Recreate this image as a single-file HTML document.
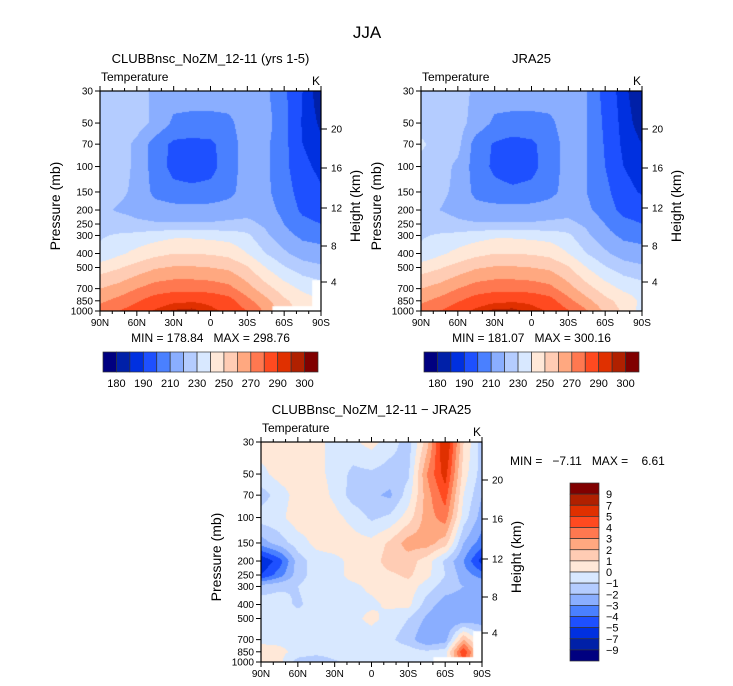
<!DOCTYPE html>
<html><head><meta charset="utf-8">
<style>
html,body{margin:0;padding:0;background:#fff;}
#wrap{position:relative;width:733px;height:686px;overflow:hidden;font-family:"Liberation Sans",sans-serif;}
canvas{position:absolute;}
svg{position:absolute;left:0;top:0;}
text{font-family:"Liberation Sans",sans-serif;fill:#000;white-space:pre;}
</style></head>
<body>
<div id="wrap">
<canvas id="c1" width="221" height="220" style="left:100px;top:91px"></canvas>
<canvas id="c2" width="221" height="220" style="left:421px;top:91px"></canvas>
<canvas id="c3" width="221" height="220" style="left:261px;top:442px"></canvas>
<svg id="svg" width="733" height="686"></svg>
</div>
<script>
// ---- data ----
const latLabels = ["90N","60N","30N","0","30S","60S","90S"];
const pressureLevels = [30,50,70,100,150,200,250,300,400,500,700,850,1000];
const pressureLabels = [30,50,70,100,150,200,250,300,400,500,700,850,1000];
const heightLabels = [20,16,12,8,4];
const tempLevels = [180,185,190,200,210,220,230,240,250,260,270,280,290,295,300];
const tempBarLabels = ["180","190","210","230","250","270","290","300"];
const diffLevels = [-9,-7,-5,-4,-3,-2,-1,0,1,2,3,4,5,7,9];
const diffBarLabels = ["9","7","5","4","3","2","1","0","\u22121","\u22122","\u22123","\u22124","\u22125","\u22127","\u22129"];
const palette = ["#000080","#0020A8","#0030E0","#1E50FF","#4A80FF","#8AAEFF","#B4CCFF","#D8E8FF","#FFE8D8","#FFCCB4","#FFA880","#FF7850","#FF4A20","#E03000","#B02000","#800000"];
// columns: 90N,75N,60N,45N,30N,15N,0,15S,30S,45S,60S,75S,90S ; rows: pressureLevels
const modelT = [
[225,225,224,218,215,215,215,215,215,212,202,190,181],
[225,225,224,218,208,207,207,208,215,214,203,189,184],
[225,224,218,205,198,197,198,205,215,212,203,190,186],
[225,224,218,205,197,196,197,205,215,212,203,192,188],
[224,222,218,207,203,202,203,207,215,212,205,195,191],
[222,219,217,215,214,214,214,215,216,214,207,198,195],
[228,225,222,221,221,221,221,222,223,218,210,203,200],
[229,231,233,236,238,238,237,236,232,222,213,208,207],
[232,238,243,247,250,250,249,247,240,230,222,215,213],
[245,249,254,259,261,261,260,258,251,240,231,225,222],
[260,264,270,275,277,277,276,273,264,254,245,238,235],
[268,273,279,285,288,289,288,284,273,263,252,245,240],
[275,280,285,291,296,297,292,288,280,268,255,246,240]];
const obsT = [
[225,225,224,218,215,215,215,215,215,210,196,186,182],
[225,225,224,216,208,207,207,208,215,210,198,187,183],
[232,225,223,205,199,196,198,205,214,210,199,188,185],
[226,224,218,205,198,195,197,205,214,210,200,190,186],
[225,222,218,207,203,202,203,207,214,210,203,193,189],
[224,220,217,214,214,214,214,215,216,212,205,197,195],
[228,225,222,221,221,221,221,222,223,218,210,203,200],
[229,231,233,236,238,238,237,236,232,222,213,208,207],
[232,238,243,247,250,250,249,247,240,230,222,215,213],
[245,249,254,259,261,261,260,258,251,240,231,225,222],
[260,264,270,275,277,277,276,273,264,254,245,238,235],
[268,273,279,285,288,289,288,284,273,263,253,246,238],
[275,280,286,292,297,297,293,289,281,271,258,248,236]];
const diffT = [
[0.5,0.5,0.4,0.3,-0.3,-0.2,0.4,-0.5,-1.5,1.5,6.5,1.0,-1.5],
[-0.3,0.4,0.5,0.3,-0.3,-1.3,-1.2,-1.5,-1.2,3,5.5,0.5,-1.5],
[-1.5,-0.5,0.4,0.5,-0.2,-1.5,-1.8,-2.2,-0.5,2.5,4.5,0,-2],
[-0.5,-0.3,0.6,0.5,0.3,-0.3,-1.2,-0.8,0.5,2.5,3.5,-0.5,-2.5],
[-2.5,-1.5,-0.5,0.3,0.5,0.4,0.3,1.2,2.5,2.5,1.5,-2,-3.5],
[-6,-4.5,-1.5,-0.5,-0.3,0.3,0.5,1.5,1.5,0.5,-1.2,-3,-5.5],
[-5,-3.5,-1.5,-0.5,-0.3,0.3,0.5,0.8,1.2,0.3,-1.0,-2.5,-3.5],
[-1.5,-1.2,-1.0,-0.4,-0.3,-0.2,0.2,0.5,0.6,-0.5,-1.5,-2,-2],
[-0.5,-0.5,-1.2,-0.5,-0.3,-0.3,-0.2,0.2,0.3,-1.5,-2.5,-2.5,-2.0],
[-0.3,-0.4,-0.5,-0.5,-0.4,-0.3,0.3,-0.4,-1,-2.2,-3,-3,-2.5],
[-0.3,-0.3,-0.5,-0.5,-0.4,-0.5,-0.6,-0.8,-1.5,-3,-2.5,2,-1],
[0.5,0.3,-0.3,-0.5,-0.3,-0.3,-0.3,-0.5,-0.5,-0.8,-0.5,5,0],
[0.5,0.3,-1.5,-2,-1.2,-0.5,-0.5,-0.3,-0.3,-0.5,-0.5,4,0]];

// ---- axis functions ----
const PW=221, PH=220;
const lnTop=Math.log(30), lnBot=Math.log(1000);
function yOfP(p){return (Math.log(p)-lnTop)/(lnBot-lnTop)*PH;}
function xOfLat(i,n){return i/(n-1)*PW;}
function pOfY(y){return Math.exp(lnTop+y/PH*(lnBot-lnTop));}

function sample(grid,x,y){
  const nc=grid[0].length;
  const cx=x/PW*(nc-1);
  const p=pOfY(y), lp=Math.log(p);
  let r=0;
  while(r<pressureLevels.length-2 && Math.log(pressureLevels[r+1])<lp) r++;
  const l0=Math.log(pressureLevels[r]), l1=Math.log(pressureLevels[r+1]);
  let fy=(lp-l0)/(l1-l0); fy=Math.max(0,Math.min(1,fy));
  let c=Math.min(nc-2,Math.floor(cx)); let fx=cx-c;
  const a=grid[r][c]*(1-fx)+grid[r][c+1]*fx;
  const b=grid[r+1][c]*(1-fx)+grid[r+1][c+1]*fx;
  return a*(1-fy)+b*fy;
}
function binOf(v,levels){let k=0;while(k<levels.length&&v>=levels[k])k++;return k;}
function hexRGB(h){return [parseInt(h.substr(1,2),16),parseInt(h.substr(3,2),16),parseInt(h.substr(5,2),16)];}
const pal=palette.map(hexRGB);
function drawContour(id,grid,levels,mask){
  const cv=document.getElementById(id),ctx=cv.getContext('2d');
  const img=ctx.createImageData(PW,PH);
  for(let y=0;y<PH;y++)for(let x=0;x<PW;x++){
    const v=sample(grid,x+0.5,y+0.5);
    const c=pal[binOf(v,levels)];
    const i=(y*PW+x)*4;img.data[i]=c[0];img.data[i+1]=c[1];img.data[i+2]=c[2];img.data[i+3]=255;
  }
  ctx.putImageData(img,0,0);
  if(mask){ctx.fillStyle="#fff";ctx.fillRect(0.78*PW,0.978*PH,0.22*PW,0.03*PH);ctx.fillRect(0.96*PW,0.86*PH,0.04*PW,0.14*PH);}
}
drawContour('c1',modelT,tempLevels,true);
drawContour('c2',obsT,tempLevels,false);
drawContour('c3',diffT,diffLevels,true);

// ---- svg overlay ----
const NS="http://www.w3.org/2000/svg";
const svg=document.getElementById('svg');
function el(tag,attrs,parent){const e=document.createElementNS(NS,tag);for(const k in attrs)e.setAttribute(k,attrs[k]);(parent||svg).appendChild(e);return e;}
function txt(s,x,y,size,anchor,parent,extra){const t=el('text',Object.assign({x:x,y:y,'font-size':size,'text-anchor':anchor||'middle'},extra||{}),parent);t.textContent=s;return t;}

const tt=txt("JJA",367,38,17,'middle');



function panel(name,X,Y,title,minmax){
  const g=el('g',{});
  
  
  const t=txt(title,X+PW/2,Y-28,13,'middle',g);
  
  
  const s=txt("Temperature",X+1,Y-10,12,'start',g);
  
  
  const k=txt("K",X+PW-1,Y-6,12,'end',g);
  
  
  const fr=el('rect',{x:X,y:Y,width:PW,height:PH,fill:'none',stroke:'#000','stroke-width':1.2},g);
  
  
  for(let d=0;d<=18;d++){
    const x=X+xOfLat(d,19), major=d%3===0;
    el('line',{x1:x,y1:Y+PH,x2:x,y2:Y+PH+(major?5:3),stroke:'#000','stroke-width':1},g);
    el('line',{x1:x,y1:Y,x2:x,y2:Y-(major?5:3),stroke:'#000','stroke-width':1},g);
  }
  latLabels.forEach((l,i)=>{
    const xl=txt(l,X+xOfLat(i,latLabels.length),Y+PH+15,10,'middle',g);
    
    
  });
  pressureLabels.forEach(p=>{
    const y=Y+yOfP(p);
    el('line',{x1:X-5,y1:y,x2:X,y2:y,stroke:'#000','stroke-width':1},g);
    const yl=txt(String(p),X-7,y+3.5,10,'end',g);
    
    
  });
  const hOff={20:38,16:77,12:117,8:155,4:191};
  heightLabels.forEach(h=>{
    const y=Y+hOff[h];
    el('line',{x1:X+PW,y1:y,x2:X+PW+6,y2:y,stroke:'#000','stroke-width':1},g);
    const hl=txt(String(h),X+PW+10,y+3.5,10,'start',g);
    
    
  });
  const ya=txt("Pressure (mb)",0,0,14,'middle',g,{transform:`translate(${X-40},${Y+PH/2+5}) rotate(-90)`});
  
  
  const yb=txt("Height (km)",0,0,14,'middle',g,{transform:`translate(${X+PW+39},${Y+PH/2+5}) rotate(-90)`});
  
  
  if(minmax){
    const mm=txt(minmax,X+PW/2,Y+PH+31,12,'middle',g);
    
    
  }
  return g;
}
panel('model-panel',100,91,"CLUBBnsc_NoZM_12-11 (yrs 1-5)","MIN = 178.84   MAX = 298.76");
panel('obs-panel',421,91,"JRA25","MIN = 181.07   MAX = 300.16");
panel('diff-panel',261,442,"CLUBBnsc_NoZM_12-11 \u2212 JRA25",null);
const dm=txt("MIN =   \u22127.11   MAX =    6.61",510,465,12,'start',svg);



function hbar(name,X,Y){
  const g=el('g',{});
  
  
  const w=215/palette.length;
  palette.forEach((c,i)=>{
    const r=el('rect',{x:X+i*w,y:Y,width:w,height:20,fill:c,stroke:'#333','stroke-width':0.7},g);
    
    
  });
  tempBarLabels.forEach((l,j)=>{
    const t=txt(l,X+(2*j+1)*w,Y+35,11,'middle',g);
    
    
  });
}
hbar('model-colorbar',103,352);
hbar('obs-colorbar',424,352);

(function(){
  const g=el('g',{});
  
  
  const X=570,Y=483,h=178/palette.length;
  palette.slice().reverse().forEach((c,i)=>{
    const r=el('rect',{x:X,y:Y+i*h,width:29,height:h,fill:c,stroke:'#333','stroke-width':0.7},g);
    
    
  });
  diffBarLabels.forEach((l,j)=>{
    const t=txt(l,X+36,Y+(j+1)*h+4,11,'start',g);
    
    
  });
})();
</script>
</body></html>
